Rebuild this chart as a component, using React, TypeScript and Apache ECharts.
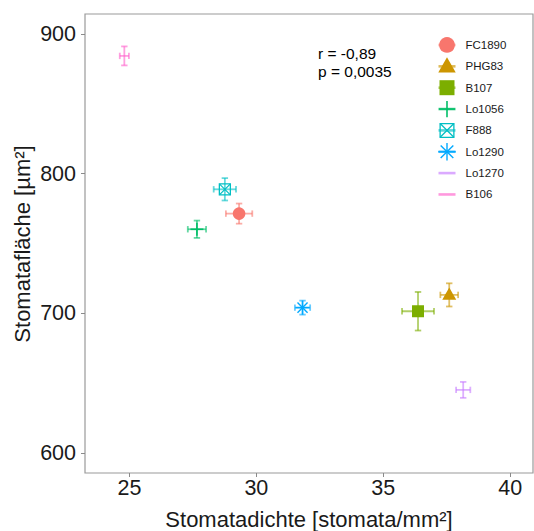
import React, { useEffect, useRef } from "react";
import * as echarts from "echarts";

// Genotype means with standard errors
const genotypes = ["FC1890", "PHG83", "B107", "Lo1056", "F888", "Lo1290", "Lo1270", "B106"];
const colors = ["#F8766D", "#CD9600", "#7CAE00", "#00BE67", "#00BFC4", "#00A9FF", "#C77CFF", "#FF61CC"];
const shapes = ["circle", "triangle", "square", "plus", "boxX", "asterisk", "none", "none"];
const densityMean = [29.32, 37.6, 36.37, 27.66, 28.76, 31.82, 38.15, 24.8];
const densityErr = [0.52, 0.35, 0.63, 0.36, 0.44, 0.3, 0.28, 0.18];
const areaMean = [771.4, 713.2, 701.5, 760.2, 788.8, 704.1, 645.2, 884.3];
const areaErr = [7.2, 8.3, 13.8, 6.2, 8.0, 5.0, 5.7, 6.8];
const xTicks = [25, 30, 35, 40];
const yTicks = [600, 700, 800, 900];
const statLines = ["r = -0,89", "p = 0,0035"];

const FONT = "'Liberation Sans', Arial, Helvetica, sans-serif";

function withAlpha(hex: string, a: number) {
  const n = parseInt(hex.slice(1), 16);
  return `rgba(${(n >> 16) & 255},${(n >> 8) & 255},${n & 255},${a})`;
}

// Point glyphs, returned as graphic element specs centred on (cx, cy)
function marker(shape: string, cx: number, cy: number, color: string, k = 1): any[] {
  const line = (x1: number, y1: number, x2: number, y2: number, w = 1.5) => ({
    type: "line",
    shape: { x1, y1, x2, y2 },
    style: { stroke: color, lineWidth: w },
  });
  switch (shape) {
    case "circle":
      return [{ type: "circle", shape: { cx, cy, r: 6.3 * k }, style: { fill: color } }];
    case "triangle": {
      const s = 7 * k;
      return [{
        type: "polygon",
        shape: { points: [[cx, cy - s * 1.05], [cx + s, cy + s * 0.7], [cx - s, cy + s * 0.7]] },
        style: { fill: color },
      }];
    }
    case "square": {
      const s = 6 * k;
      return [{ type: "rect", shape: { x: cx - s, y: cy - s, width: 2 * s, height: 2 * s }, style: { fill: color } }];
    }
    case "plus": {
      const s = 6.5 * k;
      return [line(cx - s, cy, cx + s, cy, 1.6), line(cx, cy - s, cx, cy + s, 1.6)];
    }
    case "boxX": {
      const s = 5.5 * k;
      return [
        { type: "rect", shape: { x: cx - s, y: cy - s, width: 2 * s, height: 2 * s }, style: { fill: "none", stroke: color, lineWidth: 1.3 } },
        line(cx - s, cy - s, cx + s, cy + s, 1.2),
        line(cx - s, cy + s, cx + s, cy - s, 1.2),
      ];
    }
    case "asterisk": {
      const s = 7 * k;
      const d = s * 0.72;
      return [
        line(cx - s, cy, cx + s, cy, 1.4),
        line(cx, cy - s, cx, cy + s, 1.4),
        line(cx - d, cy - d, cx + d, cy + d, 1.4),
        line(cx - d, cy + d, cx + d, cy - d, 1.4),
      ];
    }
    default:
      return [];
  }
}

export default function App() {
  const ref = useRef<HTMLDivElement>(null);

  useEffect(() => {
    if (!ref.current) return;
    const chart = echarts.init(ref.current, null, { renderer: "svg" });

    const series = genotypes.map((name, i) => ({
      type: "custom",
      name,
      data: [[densityMean[i], areaMean[i], densityErr[i], areaErr[i]]],
      renderItem: (_params: any, api: any) => {
        const x = api.value(0);
        const y = api.value(1);
        const ex = api.value(2);
        const ey = api.value(3);
        const c = api.coord([x, y]);
        const l = api.coord([x - ex, y]);
        const r = api.coord([x + ex, y]);
        const t = api.coord([x, y + ey]);
        const b = api.coord([x, y - ey]);
        const cap = 3.2;
        const bar = { stroke: withAlpha(colors[i], 0.6), lineWidth: 1.8 };
        const seg = (x1: number, y1: number, x2: number, y2: number) => ({
          type: "line",
          shape: { x1, y1, x2, y2 },
          style: bar,
        });
        return {
          type: "group",
          children: [
            seg(l[0], c[1], r[0], c[1]),
            seg(l[0], c[1] - cap, l[0], c[1] + cap),
            seg(r[0], c[1] - cap, r[0], c[1] + cap),
            seg(c[0], t[1], c[0], b[1]),
            seg(c[0] - cap, t[1], c[0] + cap, t[1]),
            seg(c[0] - cap, b[1], c[0] + cap, b[1]),
            ...marker(shapes[i], c[0], c[1], colors[i]),
          ],
        };
      },
    }));

    // Legend keys: error-bar stroke plus the point glyph
    const legendTop = 45;
    const legendStep = 21.35;
    const legend: any[] = [];
    genotypes.forEach((name, i) => {
      const cy = legendTop + i * legendStep;
      const cx = 447;
      legend.push({
        type: "line",
        shape: { x1: cx - 8.5, y1: cy, x2: cx + 8.5, y2: cy },
        style: { stroke: withAlpha(colors[i], 0.65), lineWidth: 2.6 },
      });
      marker(shapes[i], cx, cy, colors[i], 1.25).forEach((m) => legend.push(m));
      legend.push({
        type: "text",
        x: 465.5,
        y: cy,
        style: { text: name, fill: "#1a1a1a", font: `11.5px ${FONT}`, textVerticalAlign: "middle" },
      });
    });

    const stats = statLines.map((s, i) => ({
      type: "text",
      x: 318,
      y: 53 + i * 18.7,
      style: { text: s, fill: "#000", font: `15.5px ${FONT}`, textVerticalAlign: "middle" },
    }));

    chart.setOption({
      animation: false,
      backgroundColor: "#fff",
      grid: {
        left: 85,
        top: 14,
        right: 1,
        bottom: 58,
        containLabel: false,
        outerBoundsMode: "none",
        show: true,
        borderColor: "#9a9a9a",
        borderWidth: 1.2,
      },
      xAxis: {
        type: "value",
        min: 23.25,
        max: 40.9,
        splitLine: { show: false },
        axisLine: { show: false },
        axisTick: { show: true, length: 4, lineStyle: { color: "#8a8a8a" }, customValues: xTicks },
        axisLabel: { customValues: xTicks, fontSize: 21.5, fontFamily: FONT, color: "#1a1a1a", margin: 4 },
      },
      yAxis: {
        type: "value",
        min: 585.7,
        max: 914.3,
        splitLine: { show: false },
        axisLine: { show: false },
        axisTick: { show: true, length: 4, lineStyle: { color: "#8a8a8a" }, customValues: yTicks },
        axisLabel: { customValues: yTicks, fontSize: 21.5, fontFamily: FONT, color: "#1a1a1a", margin: 9 },
      },
      graphic: [
        ...legend,
        ...stats,
        {
          type: "text",
          x: 309,
          y: 519,
          style: {
            text: "Stomatadichte [stomata/mm²]",
            fill: "#1a1a1a",
            font: `22px ${FONT}`,
            textAlign: "center",
            textVerticalAlign: "middle",
          },
        },
        {
          type: "text",
          x: 22,
          y: 244,
          rotation: Math.PI / 2,
          style: {
            text: "Stomatafläche [µm²]",
            fill: "#1a1a1a",
            font: `22px ${FONT}`,
            textAlign: "center",
            textVerticalAlign: "middle",
          },
        },
      ],
      series,
    });

    return () => chart.dispose();
  }, []);

  return (
    <div
      ref={ref}
      style={{ position: "fixed", left: 0, top: 0, width: 534, height: 531 }}
    />
  );
}
